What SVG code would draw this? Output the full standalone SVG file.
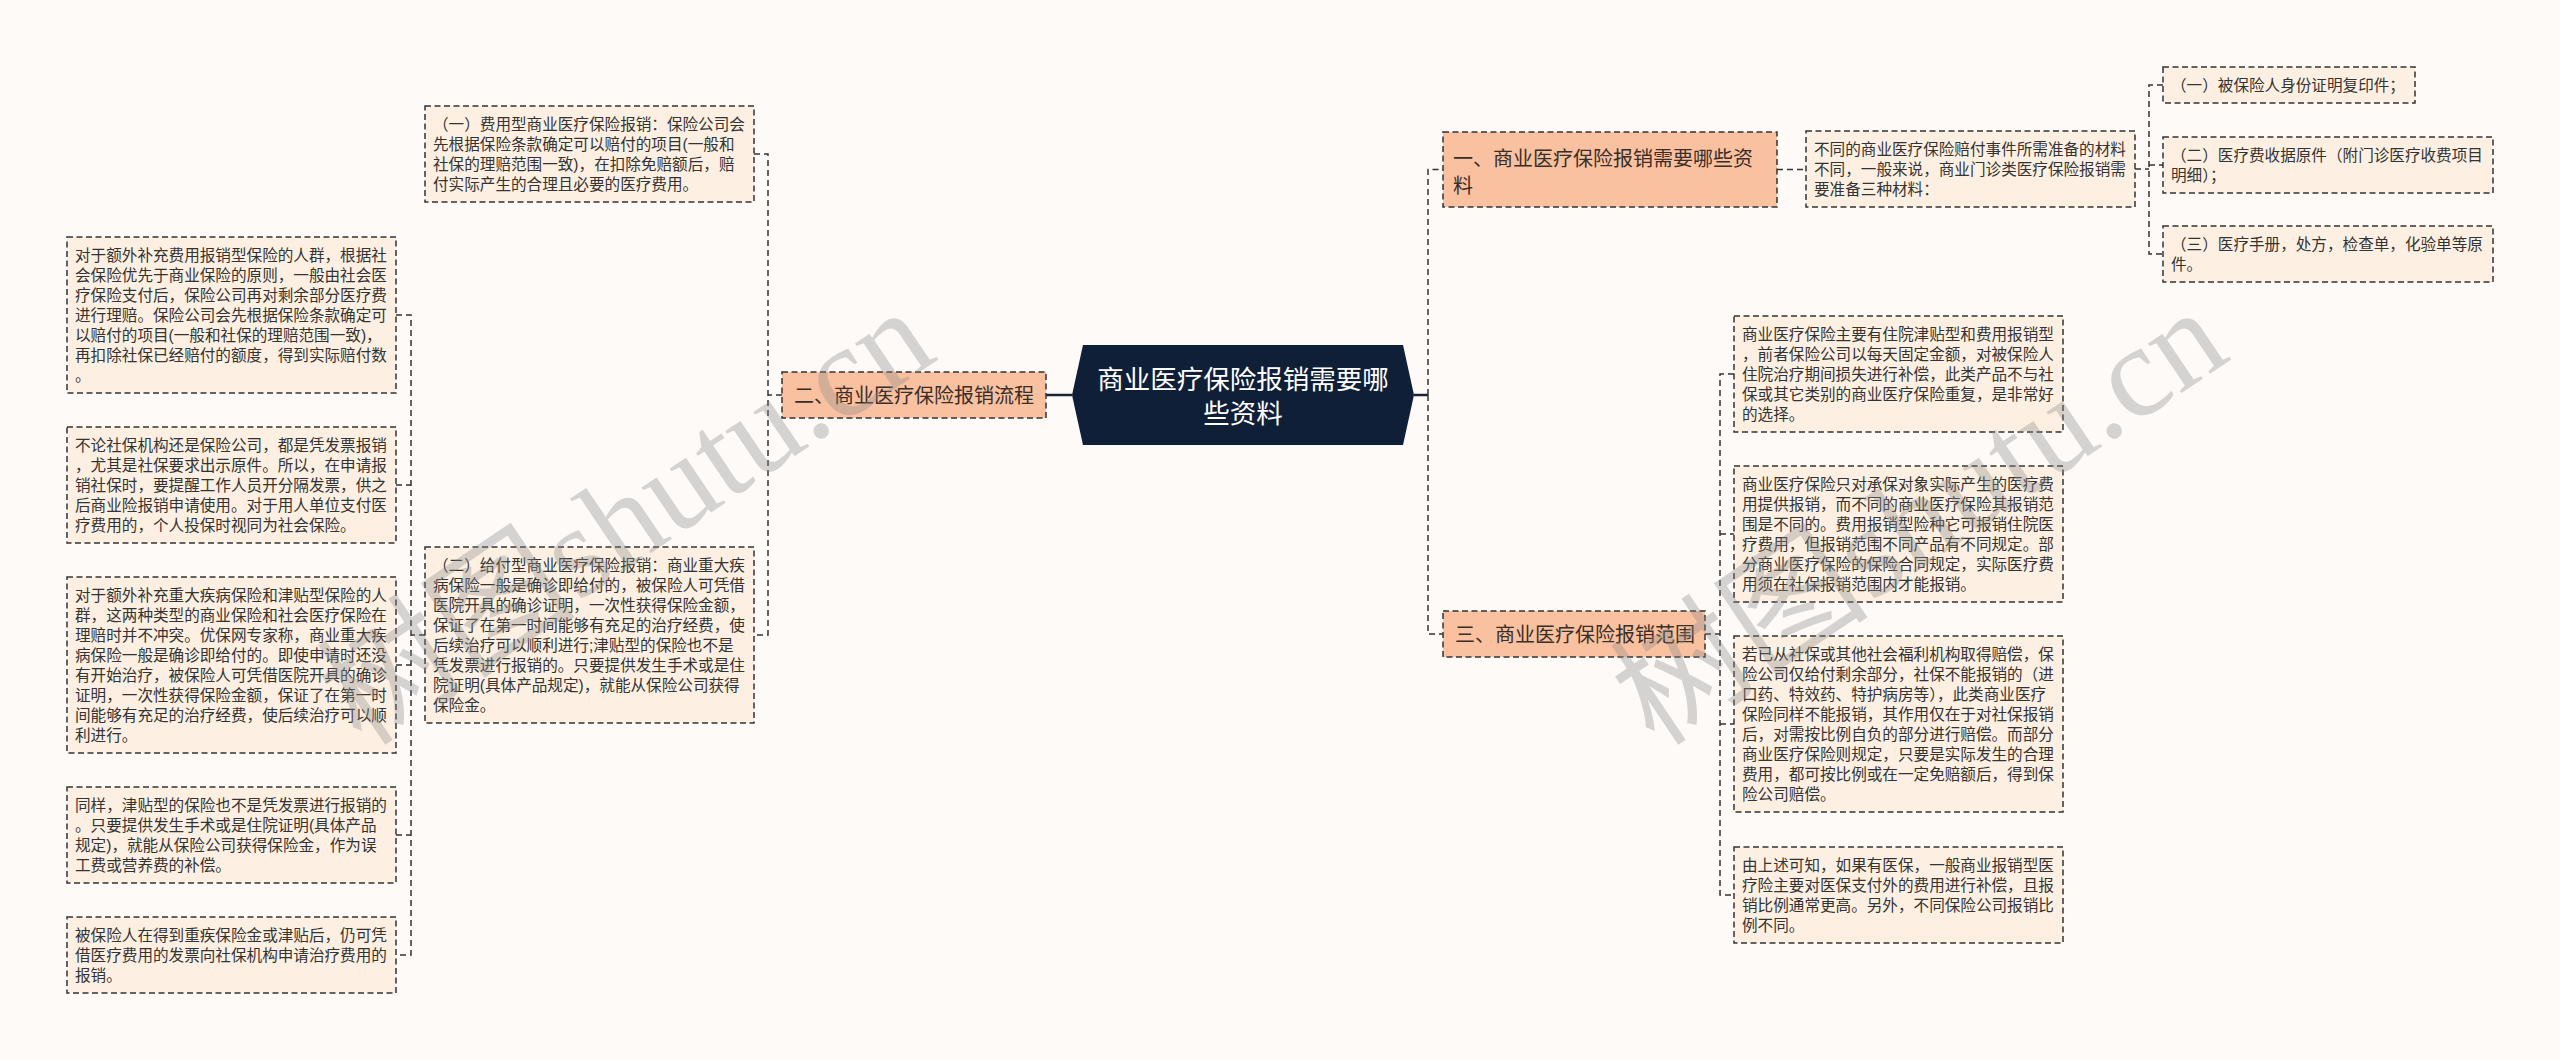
<svg xmlns="http://www.w3.org/2000/svg" width="2560" height="1060" viewBox="0 0 2560 1060">
<style>
.leaf{fill:#fdf0e2;stroke:#333;stroke-width:1.5;stroke-dasharray:6 3.5}
.l1{fill:#f9c1a0;stroke:#333;stroke-width:1.5;stroke-dasharray:6 3.5}
.t{font-family:"Liberation Sans","Noto Sans CJK SC",sans-serif;font-size:15.6px;fill:#333}
.t1{font-family:"Liberation Sans","Noto Sans CJK SC",sans-serif;font-size:20px;fill:#3a2e28}
.tc{font-family:"Liberation Sans","Noto Sans CJK SC",sans-serif;font-size:26.5px;fill:#ffffff;text-anchor:middle}
.conn{fill:none;stroke:#333;stroke-width:1.5;stroke-dasharray:6 4}
.solid{fill:none;stroke:#1a2236;stroke-width:2.5}
.wm{font-family:"Liberation Serif","Noto Sans CJK SC",serif;font-size:130px;fill:#8a8a8a;fill-opacity:0.35}
</style>
<rect width="2560" height="1060" fill="#fdfaf8"/>

<g id="connectors">
<path class="solid" d="M1072,395 H1046"/>
<path class="solid" d="M1414,395 H1428"/>
<path class="conn" d="M782,395 H768 M754,154 H768 V635 H754"/>
<path class="conn" d="M425,635 H411 M396,315 H411 V955 H396 M396,485 H411 M396,665 H411 M396,835 H411"/>
<path class="conn" d="M1428,395 V169.5 H1443 M1428,395 V634 H1443"/>
<path class="conn" d="M1777,169.5 H1806"/>
<path class="conn" d="M2135,169 H2149 M2163,85 H2149 V254 H2163 M2149,165 H2163"/>
<path class="conn" d="M1705,634 H1720 M1734,374 H1720 V895 H1734 M1720,534 H1734 M1720,724 H1734"/>
</g>

<g id="center">
<polygon points="1083,345 1403,345 1414,395 1403,445 1083,445 1072,395" fill="#0f1f38"/>
<text class="tc"><tspan x="1243" y="389">商业医疗保险报销需要哪</tspan><tspan x="1243" y="423">些资料</tspan></text>
</g>

<g id="n2">
<rect class="l1" x="782" y="372" width="264" height="46"/>
<text class="t1" x="794" y="402.5">二、商业医疗保险报销流程</text>
</g>

<g id="n2-1">
<rect class="leaf" x="425" y="106" width="329" height="96"/>
<text class="t"><tspan x="433" y="130">（一）费用型商业医疗保险报销：保险公司会</tspan><tspan x="433" y="150">先根据保险条款确定可以赔付的项目(一般和</tspan><tspan x="433" y="170">社保的理赔范围一致)，在扣除免赔额后，赔</tspan><tspan x="433" y="190">付实际产生的合理且必要的医疗费用。</tspan></text>
</g>

<g id="n2-2">
<rect class="leaf" x="425" y="547" width="329" height="176"/>
<text class="t"><tspan x="433" y="571">（二）给付型商业医疗保险报销：商业重大疾</tspan><tspan x="433" y="591">病保险一般是确诊即给付的，被保险人可凭借</tspan><tspan x="433" y="611">医院开具的确诊证明，一次性获得保险金额，</tspan><tspan x="433" y="631">保证了在第一时间能够有充足的治疗经费，使</tspan><tspan x="433" y="651">后续治疗可以顺利进行;津贴型的保险也不是</tspan><tspan x="433" y="671">凭发票进行报销的。只要提供发生手术或是住</tspan><tspan x="433" y="691">院证明(具体产品规定)，就能从保险公司获得</tspan><tspan x="433" y="711">保险金。</tspan></text>
</g>

<g id="l1">
<rect class="leaf" x="67" y="237" width="329" height="156"/>
<text class="t"><tspan x="75" y="261">对于额外补充费用报销型保险的人群，根据社</tspan><tspan x="75" y="281">会保险优先于商业保险的原则，一般由社会医</tspan><tspan x="75" y="301">疗保险支付后，保险公司再对剩余部分医疗费</tspan><tspan x="75" y="321">进行理赔。保险公司会先根据保险条款确定可</tspan><tspan x="75" y="341">以赔付的项目(一般和社保的理赔范围一致)，</tspan><tspan x="75" y="361">再扣除社保已经赔付的额度，得到实际赔付数</tspan><tspan x="75" y="381">。</tspan></text>
</g>

<g id="l2">
<rect class="leaf" x="67" y="427" width="329" height="116"/>
<text class="t"><tspan x="75" y="451">不论社保机构还是保险公司，都是凭发票报销</tspan><tspan x="75" y="471">，尤其是社保要求出示原件。所以，在申请报</tspan><tspan x="75" y="491">销社保时，要提醒工作人员开分隔发票，供之</tspan><tspan x="75" y="511">后商业险报销申请使用。对于用人单位支付医</tspan><tspan x="75" y="531">疗费用的，个人投保时视同为社会保险。</tspan></text>
</g>

<g id="l3">
<rect class="leaf" x="67" y="577" width="329" height="176"/>
<text class="t"><tspan x="75" y="601">对于额外补充重大疾病保险和津贴型保险的人</tspan><tspan x="75" y="621">群，这两种类型的商业保险和社会医疗保险在</tspan><tspan x="75" y="641">理赔时并不冲突。优保网专家称，商业重大疾</tspan><tspan x="75" y="661">病保险一般是确诊即给付的。即使申请时还没</tspan><tspan x="75" y="681">有开始治疗，被保险人可凭借医院开具的确诊</tspan><tspan x="75" y="701">证明，一次性获得保险金额，保证了在第一时</tspan><tspan x="75" y="721">间能够有充足的治疗经费，使后续治疗可以顺</tspan><tspan x="75" y="741">利进行。</tspan></text>
</g>

<g id="l4">
<rect class="leaf" x="67" y="787" width="329" height="96"/>
<text class="t"><tspan x="75" y="811">同样，津贴型的保险也不是凭发票进行报销的</tspan><tspan x="75" y="831">。只要提供发生手术或是住院证明(具体产品</tspan><tspan x="75" y="851">规定)，就能从保险公司获得保险金，作为误</tspan><tspan x="75" y="871">工费或营养费的补偿。</tspan></text>
</g>

<g id="l5">
<rect class="leaf" x="67" y="917" width="329" height="76"/>
<text class="t"><tspan x="75" y="941">被保险人在得到重疾保险金或津贴后，仍可凭</tspan><tspan x="75" y="961">借医疗费用的发票向社保机构申请治疗费用的</tspan><tspan x="75" y="981">报销。</tspan></text>
</g>

<g id="n1">
<rect class="l1" x="1443" y="132" width="334" height="75"/>
<text class="t1"><tspan x="1453" y="165.5">一、商业医疗保险报销需要哪些资</tspan><tspan x="1453" y="192.5">料</tspan></text>
</g>

<g id="n1-desc">
<rect class="leaf" x="1806" y="131" width="329" height="76"/>
<text class="t"><tspan x="1814" y="155">不同的商业医疗保险赔付事件所需准备的材料</tspan><tspan x="1814" y="175">不同，一般来说，商业门诊类医疗保险报销需</tspan><tspan x="1814" y="195">要准备三种材料：</tspan></text>
</g>

<g id="r1">
<rect class="leaf" x="2163" y="67" width="252" height="36"/>
<text class="t" x="2171" y="91">（一）被保险人身份证明复印件；</text>
</g>

<g id="r2">
<rect class="leaf" x="2163" y="137" width="330" height="56"/>
<text class="t"><tspan x="2171" y="161">（二）医疗费收据原件（附门诊医疗收费项目</tspan><tspan x="2171" y="181">明细）；</tspan></text>
</g>

<g id="r3">
<rect class="leaf" x="2163" y="226" width="330" height="56"/>
<text class="t"><tspan x="2171" y="250">（三）医疗手册，处方，检查单，化验单等原</tspan><tspan x="2171" y="270">件。</tspan></text>
</g>

<g id="n3">
<rect class="l1" x="1443" y="611" width="262" height="46"/>
<text class="t1" x="1455" y="641.5">三、商业医疗保险报销范围</text>
</g>

<g id="a">
<rect class="leaf" x="1734" y="316" width="329" height="116"/>
<text class="t"><tspan x="1742" y="340">商业医疗保险主要有住院津贴型和费用报销型</tspan><tspan x="1742" y="360">，前者保险公司以每天固定金额，对被保险人</tspan><tspan x="1742" y="380">住院治疗期间损失进行补偿，此类产品不与社</tspan><tspan x="1742" y="400">保或其它类别的商业医疗保险重复，是非常好</tspan><tspan x="1742" y="420">的选择。</tspan></text>
</g>

<g id="b">
<rect class="leaf" x="1734" y="466" width="329" height="136"/>
<text class="t"><tspan x="1742" y="490">商业医疗保险只对承保对象实际产生的医疗费</tspan><tspan x="1742" y="510">用提供报销，而不同的商业医疗保险其报销范</tspan><tspan x="1742" y="530">围是不同的。费用报销型险种它可报销住院医</tspan><tspan x="1742" y="550">疗费用，但报销范围不同产品有不同规定。部</tspan><tspan x="1742" y="570">分商业医疗保险的保险合同规定，实际医疗费</tspan><tspan x="1742" y="590">用须在社保报销范围内才能报销。</tspan></text>
</g>

<g id="c">
<rect class="leaf" x="1734" y="636" width="329" height="176"/>
<text class="t"><tspan x="1742" y="660">若已从社保或其他社会福利机构取得赔偿，保</tspan><tspan x="1742" y="680">险公司仅给付剩余部分，社保不能报销的（进</tspan><tspan x="1742" y="700">口药、特效药、特护病房等），此类商业医疗</tspan><tspan x="1742" y="720">保险同样不能报销，其作用仅在于对社保报销</tspan><tspan x="1742" y="740">后，对需按比例自负的部分进行赔偿。而部分</tspan><tspan x="1742" y="760">商业医疗保险则规定，只要是实际发生的合理</tspan><tspan x="1742" y="780">费用，都可按比例或在一定免赔额后，得到保</tspan><tspan x="1742" y="800">险公司赔偿。</tspan></text>
</g>

<g id="d">
<rect class="leaf" x="1734" y="847" width="329" height="96"/>
<text class="t"><tspan x="1742" y="871">由上述可知，如果有医保，一般商业报销型医</tspan><tspan x="1742" y="891">疗险主要对医保支付外的费用进行补偿，且报</tspan><tspan x="1742" y="911">销比例通常更高。另外，不同保险公司报销比</tspan><tspan x="1742" y="931">例不同。</tspan></text>
</g>

<g id="watermark">
<text class="wm" transform="translate(362,748) rotate(-34)">树图shutu.cn</text>
<text class="wm" transform="translate(1655,748) rotate(-34)">树图shutu.cn</text>
</g>
</svg>
